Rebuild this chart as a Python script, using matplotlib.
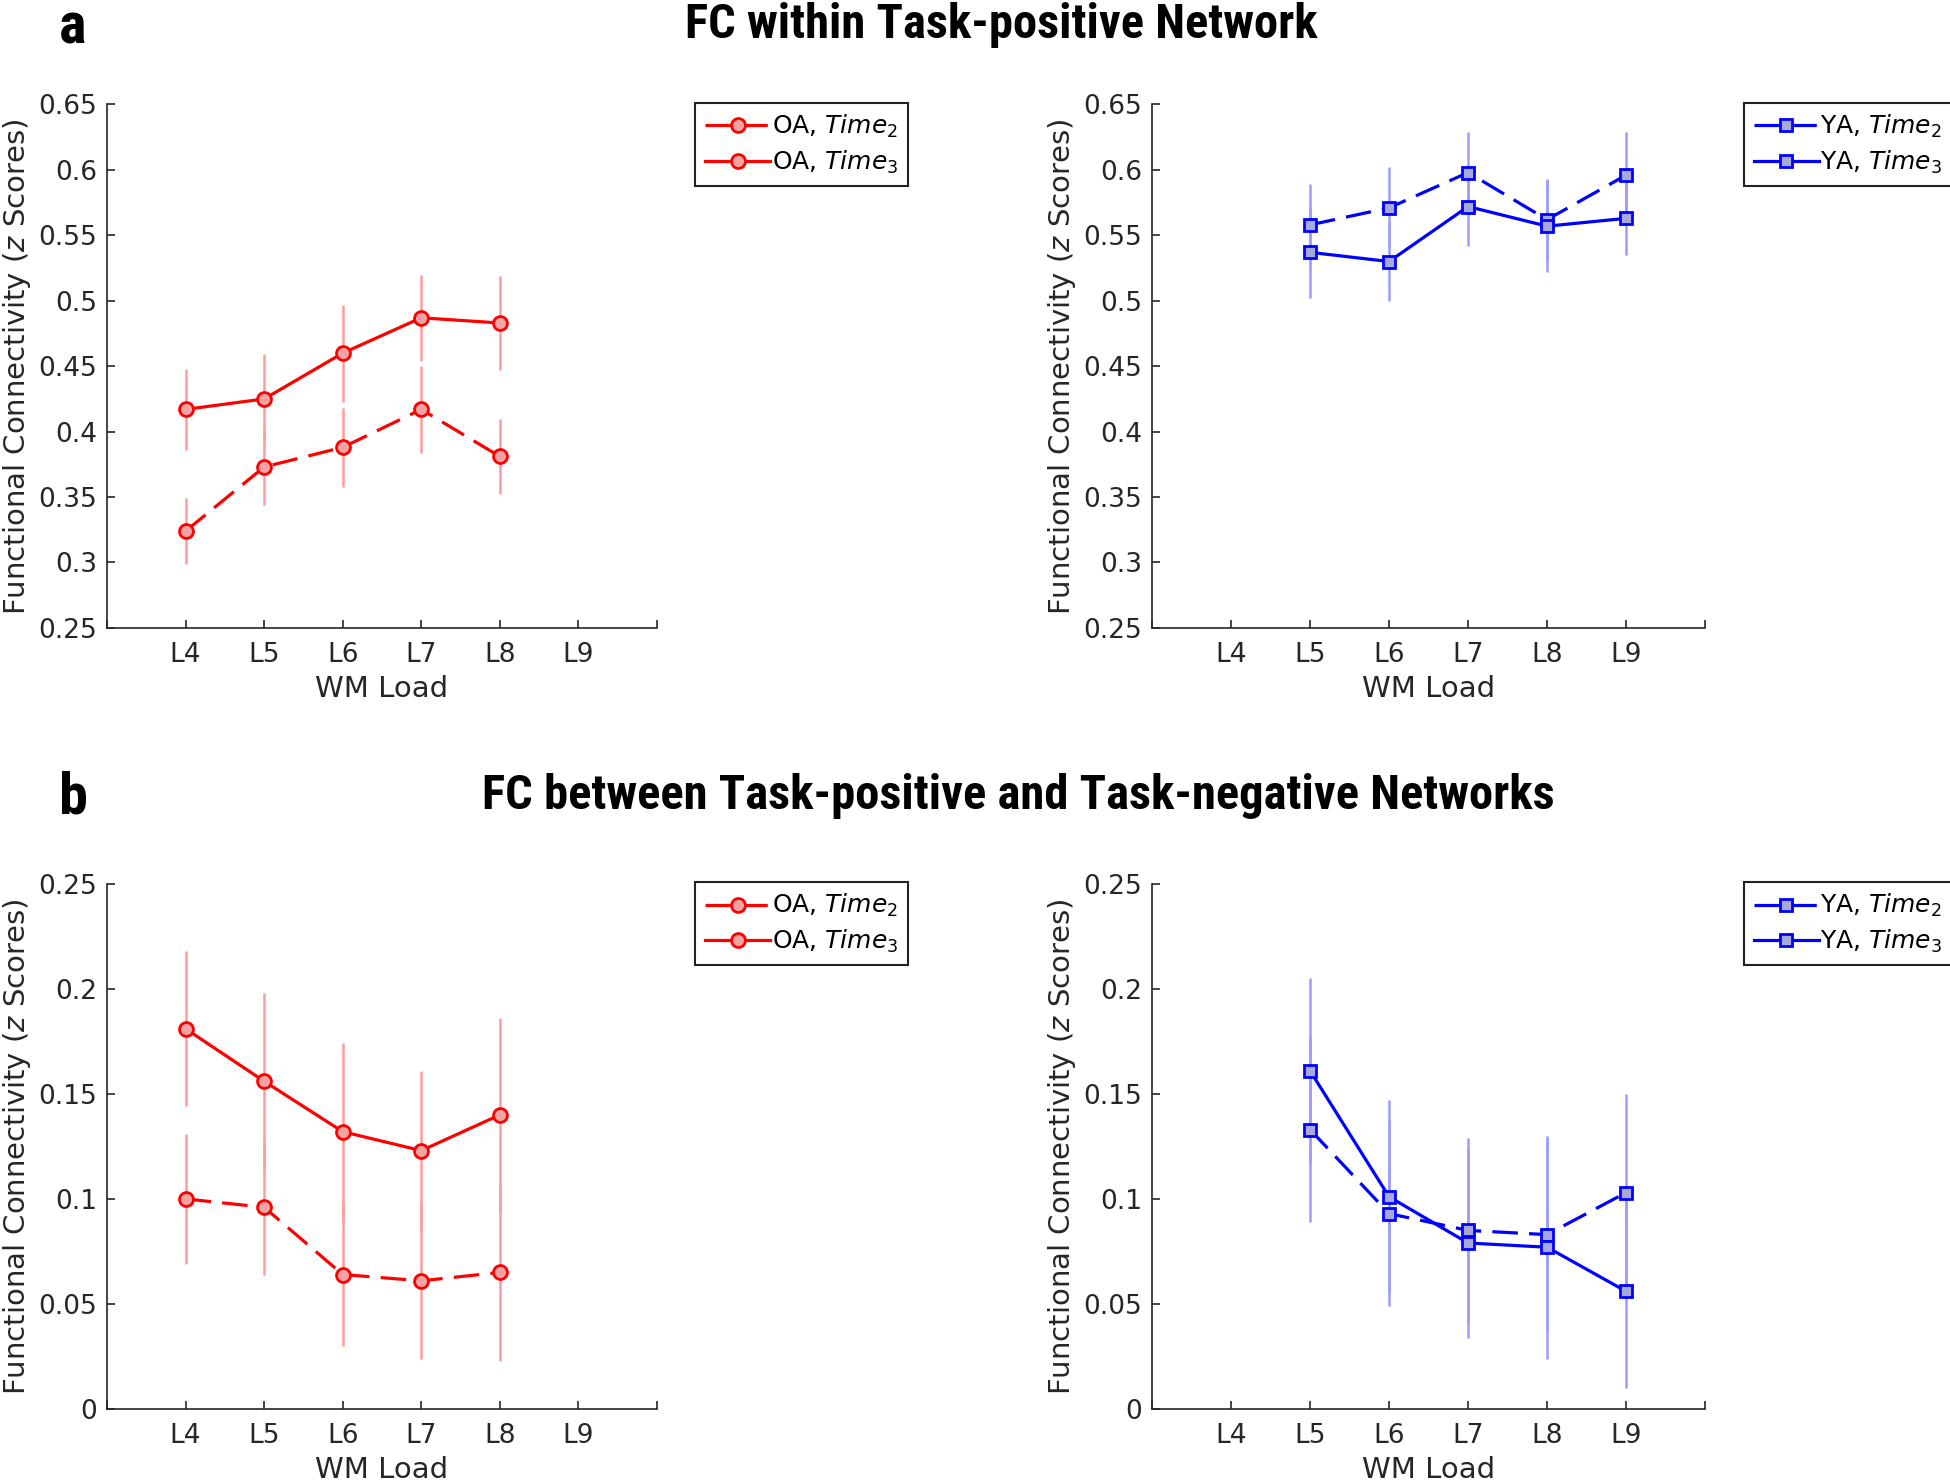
import numpy as np
import matplotlib
matplotlib.use('Agg')
import matplotlib.pyplot as plt

# ---- data ----
loads = ['L4', 'L5', 'L6', 'L7', 'L8', 'L9']
x_oa = [4, 5, 6, 7, 8]
x_ya = [5, 6, 7, 8, 9]

# panel a: FC within task-positive network
oa_t2_a = [0.324, 0.373, 0.388, 0.417, 0.381]
oa_t2_a_err = [0.025, 0.029, 0.030, 0.033, 0.029]
oa_t3_a = [0.417, 0.425, 0.460, 0.487, 0.483]
oa_t3_a_err = [0.031, 0.034, 0.037, 0.033, 0.036]
ya_t2_a = [0.558, 0.571, 0.598, 0.562, 0.596]
ya_t2_a_err = [0.031, 0.031, 0.031, 0.031, 0.033]
ya_t3_a = [0.537, 0.530, 0.572, 0.557, 0.563]
ya_t3_a_err = [0.035, 0.030, 0.030, 0.035, 0.028]

# panel b: FC between task-positive and task-negative networks
oa_t2_b = [0.100, 0.096, 0.064, 0.061, 0.065]
oa_t2_b_err = [0.031, 0.032, 0.034, 0.037, 0.042]
oa_t3_b = [0.181, 0.156, 0.132, 0.123, 0.140]
oa_t3_b_err = [0.037, 0.042, 0.042, 0.038, 0.046]
ya_t2_b = [0.133, 0.093, 0.085, 0.083, 0.103]
ya_t2_b_err = [0.044, 0.044, 0.044, 0.046, 0.047]
ya_t3_b = [0.161, 0.101, 0.079, 0.077, 0.056]
ya_t3_b_err = [0.044, 0.046, 0.045, 0.053, 0.046]

plt.rcParams['font.family'] = 'DejaVu Sans'
axcol = '#262626'

fig = plt.figure(figsize=(19.5, 14.82), dpi=100)

pos = {
    'tl': [0.0549, 0.5763, 0.282, 0.3532],
    'tr': [0.5908, 0.5763, 0.2836, 0.3532],
    'bl': [0.0549, 0.0493, 0.282, 0.3543],
    'br': [0.5908, 0.0493, 0.2836, 0.3543],
}


def panel(ax, x, t2, t2e, t3, t3e, group, ylim, yticks, ytl):
    if group == 'OA':
        c, ec, fc, mk, ms = '#ff0000', '#ff9c9c', '#f2a3a3', 'o', 10
    else:
        c, ec, fc, mk, ms = '#0000ff', '#9c9cff', '#a8a8dc', 's', 8
    ax.errorbar(x, t2, yerr=t2e, fmt='none', ecolor=ec, elinewidth=1.8, capsize=0, zorder=1)
    ax.errorbar(x, t3, yerr=t3e, fmt='none', ecolor=ec, elinewidth=1.8, capsize=0, zorder=1)
    l2, = ax.plot(x, t2, color=c, lw=2.3, ls=(0, (8, 3.5)), marker=mk, ms=ms,
                  mfc=fc, mec=c, mew=2, zorder=3,
                  label=group + r', $\mathit{Time}_2$')
    l3, = ax.plot(x, t3, color=c, lw=2.3, ls='-', marker=mk, ms=ms,
                  mfc=fc, mec=c, mew=2, zorder=3,
                  label=group + r', $\mathit{Time}_3$')
    ax.set_xlim(3, 10)
    ax.set_xticks(range(3, 11))
    ax.set_xticklabels([''] + loads + [''])
    ax.set_ylim(*ylim)
    ax.set_yticks(yticks)
    ax.set_yticklabels(ytl)
    for s in ['top', 'right']:
        ax.spines[s].set_visible(False)
    for s in ['left', 'bottom']:
        ax.spines[s].set_color(axcol)
        ax.spines[s].set_linewidth(1.2)
    ax.tick_params(direction='in', length=6, width=1.2, colors=axcol,
                   labelsize=19, pad=7)
    ax.tick_params(axis='x', pad=10)
    ax.set_xlabel('WM Load', fontsize=21, color=axcol, labelpad=5)
    ax.set_ylabel(r'Functional Connectivity ($\mathit{z}$ Scores)', fontsize=21,
                  color=axcol, labelpad=4)
    leg = ax.legend(handles=[l2, l3], loc='upper left', bbox_to_anchor=(1.07, 1.003),
                    borderaxespad=0, fontsize=18, handlelength=2.6, handletextpad=0.05,
                    fancybox=False, framealpha=1, edgecolor='#222222',
                    borderpad=0.4, labelspacing=0.35)
    leg.get_frame().set_linewidth(1.5)


ya_top = [0.25, 0.3, 0.35, 0.4, 0.45, 0.5, 0.55, 0.6, 0.65]
ya_top_l = ['0.25', '0.3', '0.35', '0.4', '0.45', '0.5', '0.55', '0.6', '0.65']
ya_bot = [0, 0.05, 0.1, 0.15, 0.2, 0.25]
ya_bot_l = ['0', '0.05', '0.1', '0.15', '0.2', '0.25']

ax = fig.add_axes(pos['tl'])
panel(ax, x_oa, oa_t2_a, oa_t2_a_err, oa_t3_a, oa_t3_a_err, 'OA', (0.25, 0.65), ya_top, ya_top_l)
ax = fig.add_axes(pos['tr'])
panel(ax, x_ya, ya_t2_a, ya_t2_a_err, ya_t3_a, ya_t3_a_err, 'YA', (0.25, 0.65), ya_top, ya_top_l)
ax = fig.add_axes(pos['bl'])
panel(ax, x_oa, oa_t2_b, oa_t2_b_err, oa_t3_b, oa_t3_b_err, 'OA', (0, 0.25), ya_bot, ya_bot_l)
ax = fig.add_axes(pos['br'])
panel(ax, x_ya, ya_t2_b, ya_t2_b_err, ya_t3_b, ya_t3_b_err, 'YA', (0, 0.25), ya_bot, ya_bot_l)

tfont = ['Liberation Sans Narrow', 'Roboto Condensed', 'Open Sans Condensed', 'DejaVu Sans']
fig.text(73 / 1950, 1 - 43 / 1482, 'a', fontsize=42, fontweight='bold', family=tfont,
         ha='center', va='baseline')
fig.text(1001 / 1950, 1 - 38 / 1482, 'FC within Task-positive Network', fontsize=35,
         fontweight='bold', family=tfont, ha='center', va='baseline')
fig.text(73 / 1950, 1 - 813 / 1482, 'b', fontsize=42, fontweight='bold', family=tfont,
         ha='center', va='baseline')
fig.text(1018 / 1950, 1 - 809 / 1482, 'FC between Task-positive and Task-negative Networks',
         fontsize=35, fontweight='bold', family=tfont, ha='center', va='baseline')

fig.savefig('out.png', dpi=100, facecolor='white')
